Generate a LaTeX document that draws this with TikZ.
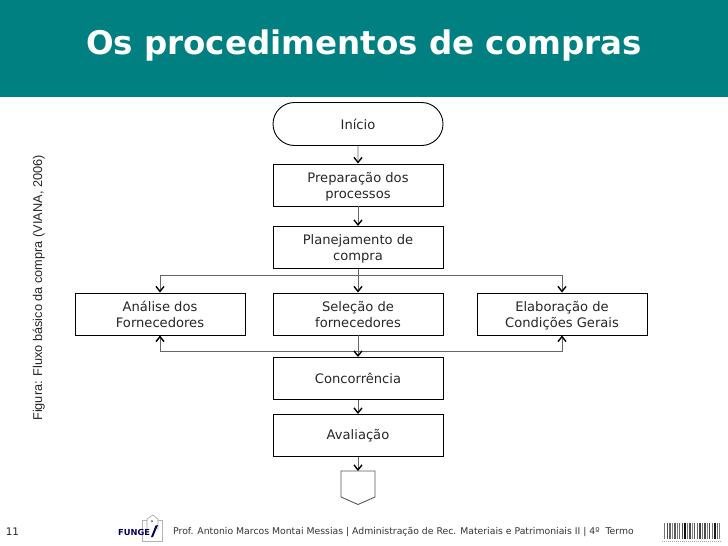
\documentclass[tikz,border=0pt]{standalone}
\usepackage{fontspec}
\setmainfont{DejaVu Sans}
\newfontfamily\arialfont{Liberation Sans}
\usetikzlibrary{arrows.meta,shapes.misc}
\definecolor{teal1}{HTML}{008080}
\newcommand\twolines[2]{\rule{0pt}{14pt}#1\\#2\rule[-4pt]{0pt}{4pt}}
\tikzset{
 flow/.style={draw=black,line width=0.9pt,minimum width=170pt,minimum height=42pt,inner sep=0pt,align=center,font=\fontsize{13.1}{16}\selectfont,text=black!85},
 conn/.style={draw=black!60,line width=0.8pt},
 arr/.style={conn,-{Straight Barb[length=5pt,width=8pt,color=black,line width=1.4pt]}}
}
\begin{document}
\begin{tikzpicture}[x=1pt,y=-1pt]
\useasboundingbox (0,0) rectangle (728,546);
\fill[teal1] (0,0) rectangle (728,96.5);
\node[font=\bfseries\fontsize{32.5}{36}\selectfont,text=white] (title) at (364,46) {Os procedimentos de compras};
\node[flow,rounded rectangle,minimum height=43pt] (ini) at (358,124) {Início};
\node[flow] (prep) at (358,185) {\twolines{Preparação dos}{processos}};
\node[flow] (plan) at (358,247.5) {\twolines{Planejamento de}{compra}};
\node[flow] (ana) at (160,314) {\twolines{Análise dos}{Fornecedores}};
\node[flow] (sel) at (358,314) {\twolines{Seleção de}{fornecedores}};
\node[flow] (ela) at (562,314) {\twolines{Elaboração de}{Condições Gerais}};
\node[flow] (con) at (358,378.5) {Concorrência};
\node[flow] (ava) at (358,435.5) {\raisebox{-2pt}{Avaliação}};
\coordinate (offtop) at (358,471);
\draw[draw=black!65,line width=0.9pt,fill=white] (341,471) -- (375,471) -- (375,497) -- (358,504.5) -- (341,497) -- cycle;
\coordinate (top) at (358,275);
\coordinate (bot) at (358,351.5);
\draw[arr] (ini) -- (prep);
\draw[arr] (prep) -- (plan);
\draw[arr] (plan) -- (sel);
\draw[arr] (top) -| (ana);
\draw[arr] (top) -| (ela);
\draw[arr] (bot) -| (ana);
\draw[arr] (bot) -| (ela);
\draw[arr] (sel) -- (con);
\draw[arr] (con) -- (ava);
\draw[arr] (ava) -- (offtop);
\node[rotate=90,font=\arialfont\fontsize{12.75}{14}\selectfont,text=black!85] (fig) at (38.7,288) {Figura: Fluxo básico da compra (VIANA, 2006)};
\node[font=\fontsize{10.4}{11}\selectfont,text=black!85] (page) at (12.5,531.5) {11};
\node[font=\fontsize{9.3}{11}\selectfont,text=black!80,anchor=west,inner sep=0pt] (foot) at (173,531.5) {Prof. Antonio Marcos Montai Messias | Administração de Rec. Materiais e Patrimoniais II | 4º\ \ Termo};
% logo
\draw[draw=black!30,fill=white,line width=0.6pt] (142,541) rectangle (162,520);
\draw[draw=black!35,line width=0.6pt,fill=white] (147,530) -- (147,519) -- (153,515) -- (158,519) -- (158,530);
\fill[black!70] (152,521) circle (1pt);
\node[font=\bfseries\fontsize{8.3}{10}\selectfont,text=blue!35!black,anchor=west,inner sep=0pt] (logo) at (118,532.5) {FUNGE};
\fill[blue!35!black] (158,525) -- (155.5,525.5) -- (151,537) -- (153,537) -- cycle;
% barcode
\foreach \x/\w/\c in {664/1.4/55,666.5/1.2/70,669/1.8/60,672/1/50,674/1.5/65,676.5/1.2/55,679/1.2/60,681.5/1/70,683.5/2.2/95,687/1/55,689/1.6/70,692/1/50,694/1.2/65,696.5/1.2/60,699/1.5/75,702/1/55,704/1.6/70,707/1/50,709/1.4/75,711.5/1.2/55,713.5/2/90,716.5/1.2/60,718.5/1/55}
 \fill[black!\c] (\x,523) rectangle ++(\w,16);
\draw[black!35,line width=0.8pt,dash pattern=on 1pt off 1pt] (662,541) -- (722,541);
\end{tikzpicture}
\end{document}
